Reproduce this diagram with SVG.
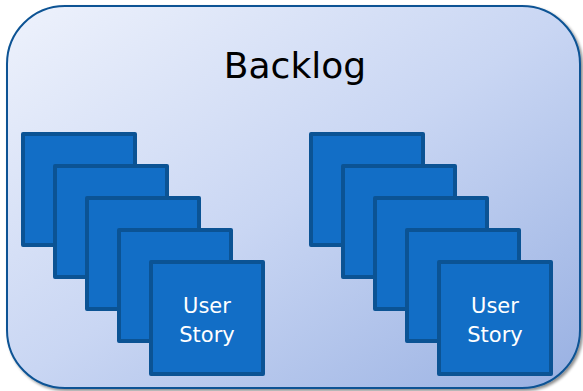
<svg xmlns="http://www.w3.org/2000/svg" width="583" height="391" viewBox="0 0 583 391">
  <defs>
    <linearGradient id="panelFill" x1="0" y1="0" x2="1" y2="1">
      <stop offset="0" stop-color="#EEF2FC"/>
      <stop offset="0.5" stop-color="#C9D6F3"/>
      <stop offset="1" stop-color="#98B0E2"/>
    </linearGradient>
    <filter id="shadow" x="-5%" y="-5%" width="110%" height="110%">
      <feGaussianBlur in="SourceAlpha" stdDeviation="1.5"/>
      <feOffset dx="2" dy="2" result="b"/>
      <feComponentTransfer><feFuncA type="linear" slope="0.45"/></feComponentTransfer>
      <feMerge><feMergeNode/><feMergeNode in="SourceGraphic"/></feMerge>
    </filter>
  </defs>
  <style>
    .panel { fill: url(#panelFill); stroke: #0B5394; stroke-width: 2; }
    .card { fill: #126EC6; stroke: #0B5394; stroke-width: 4; stroke-linejoin: round; }
    .title { font-family: "DejaVu Sans", Verdana, sans-serif; font-size: 36px; fill: #000; text-anchor: middle; }
    .label { font-family: "DejaVu Sans", Verdana, sans-serif; font-size: 21px; fill: #FFFFFF; text-anchor: middle; }
  </style>

  <!-- backlog container -->
  <g id="backlog">
    <rect class="panel" x="7" y="6" width="573" height="382" rx="58" ry="58" filter="url(#shadow)"/>
    <text class="title" x="295" y="78">Backlog</text>
  </g>

  <!-- left stack of stories -->
  <g id="stack-left">
    <rect class="card" x="23" y="134" width="112" height="111"/>
    <rect class="card" x="55" y="166" width="112" height="111"/>
    <rect class="card" x="87" y="198" width="112" height="111"/>
    <rect class="card" x="119" y="230" width="112" height="111"/>
    <g id="story-left">
      <rect class="card" x="151" y="262" width="112" height="112"/>
      <text class="label" x="207" y="313">User</text>
      <text class="label" x="207" y="342">Story</text>
    </g>
  </g>

  <!-- right stack of stories -->
  <g id="stack-right">
    <rect class="card" x="311" y="134" width="112" height="111"/>
    <rect class="card" x="343" y="166" width="112" height="111"/>
    <rect class="card" x="375" y="198" width="112" height="111"/>
    <rect class="card" x="407" y="230" width="112" height="111"/>
    <g id="story-right">
      <rect class="card" x="439" y="262" width="112" height="112"/>
      <text class="label" x="495" y="313">User</text>
      <text class="label" x="495" y="342">Story</text>
    </g>
  </g>

  <!-- no connectors in this diagram -->
  <g id="connectors"/>
</svg>
